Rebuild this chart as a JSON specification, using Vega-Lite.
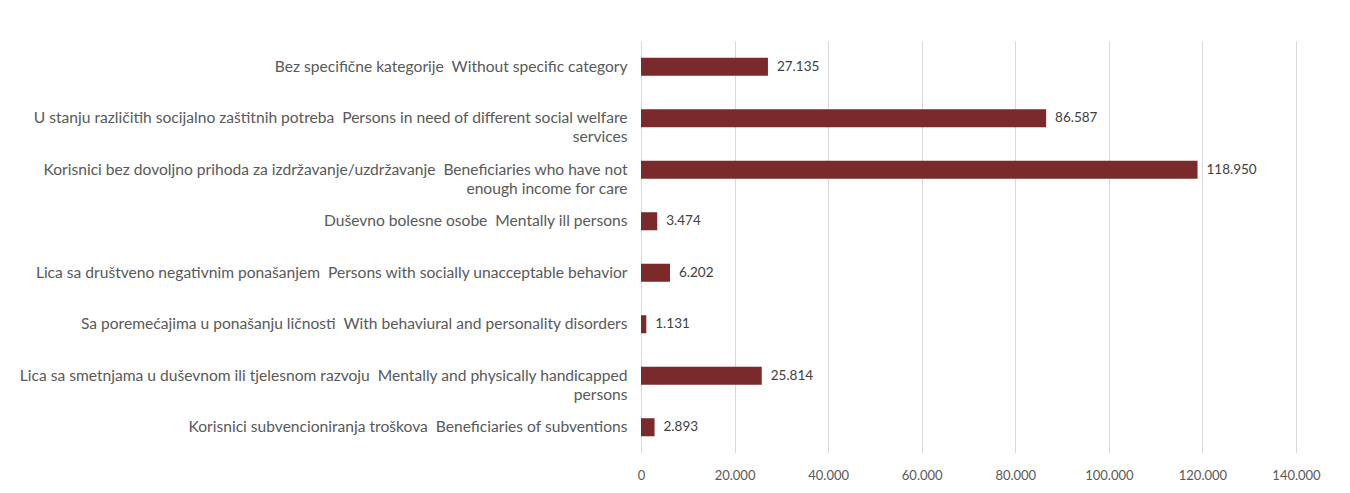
{
  "$schema": "https://vega.github.io/schema/vega-lite/v6.json",
  "width": 655,
  "height": 412,
  "autosize": {"type": "none"},
  "padding": {"left": 641, "top": 41, "right": 54, "bottom": 40},
  "background": "white",
  "config": {
    "view": {"stroke": null},
    "font": "Lato",
    "locale": {"number": {"decimal": ",", "thousands": ".", "grouping": [3], "currency": ["", ""]}}
  },
  "data": {
    "values": [
      {"label": "Bez specifične kategorije\u00a0 Without specific category", "value": 27135},
      {"label": "U stanju različitih socijalno zaštitnih potreba\u00a0 Persons in need of different social welfare|services", "value": 86587},
      {"label": "Korisnici bez dovoljno prihoda za izdržavanje/uzdržavanje\u00a0 Beneficiaries who have not|enough income for care", "value": 118950},
      {"label": "Duševno bolesne osobe\u00a0 Mentally ill persons", "value": 3474},
      {"label": "Lica sa društveno negativnim ponašanjem\u00a0 Persons with socially unacceptable behavior", "value": 6202},
      {"label": "Sa poremećajima u ponašanju ličnosti\u00a0 With behaviural and personality disorders", "value": 1131},
      {"label": "Lica sa smetnjama u duševnom ili tjelesnom razvoju\u00a0 Mentally and physically handicapped|persons", "value": 25814},
      {"label": "Korisnici subvencioniranja troškova\u00a0 Beneficiaries of subventions", "value": 2893}
    ]
  },
  "encoding": {
    "y": {
      "field": "label",
      "type": "nominal",
      "sort": null,
      "scale": {"paddingInner": 0.65, "paddingOuter": 0.325},
      "axis": {
        "title": null,
        "domain": false,
        "ticks": false,
        "labelExpr": "split(datum.label, '|')",
        "labelPadding": 14,
        "labelFontSize": 15.6,
        "labelColor": "#595959",
        "labelLineHeight": 19,
        "labelLimit": 700
      }
    },
    "x": {
      "field": "value",
      "type": "quantitative",
      "scale": {"domain": [0, 140000], "nice": false},
      "axis": {
        "title": null,
        "domain": false,
        "ticks": false,
        "values": [0, 20000, 40000, 60000, 80000, 100000, 120000, 140000],
        "format": ",d",
        "labelPadding": 16,
        "labelFontSize": 13,
        "labelColor": "#595959",
        "gridColor": "#d9d9d9",
        "labelFlush": false
      }
    }
  },
  "layer": [
    {"mark": {"type": "bar", "color": "#7b2a2b"}},
    {
      "mark": {"type": "text", "align": "left", "baseline": "middle", "dx": 9, "fontSize": 13.5, "color": "#404040"},
      "encoding": {"text": {"field": "value", "type": "quantitative", "format": ",d"}}
    }
  ]
}
